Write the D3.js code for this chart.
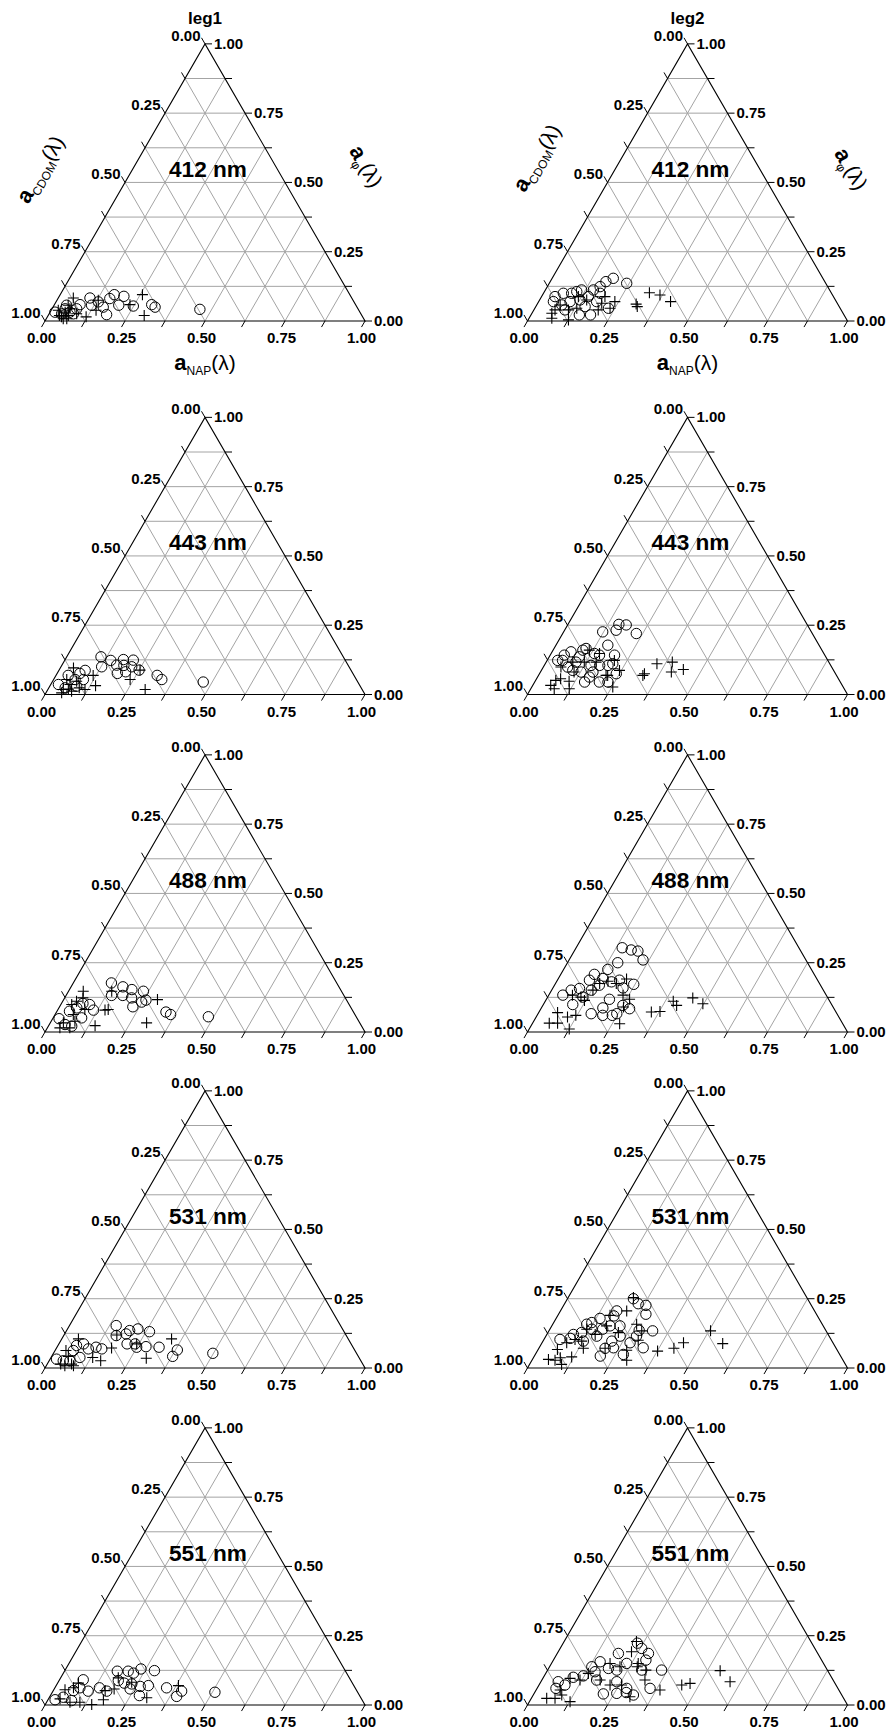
<!DOCTYPE html>
<html>
<head>
<meta charset="utf-8">
<script src="https://cdn.jsdelivr.net/npm/d3@7"></script>
<style>
  body { margin: 0; background: #fff; }
  svg { display: block; }
  text { font-family: "Liberation Sans", Arial, sans-serif; fill: #000; }
</style>
</head>
<body>
<svg id="chart" width="891" height="1733"></svg>
<script>
// Ternary absorption budgets: aNAP, aCDOM and aphi fractions per wavelength and leg.
const legs = ["leg1", "leg2"];
const wavelengths = [412, 443, 488, 531, 551];
const tickValues = [0, 0.25, 0.5, 0.75, 1];
const tickLabels = ["0.00", "0.25", "0.50", "0.75", "1.00"];

// Each point is [aNAP fraction, aphi fraction]; aCDOM is the remainder 1 - aNAP - aphi.
const leg1_412_circle = [[0.463,0.042],[0.319,0.050],[0.304,0.059],[0.249,0.054],[0.202,0.089],[0.169,0.095],[0.162,0.081],[0.202,0.057],[0.181,0.023],[0.157,0.050],[0.132,0.069],[0.099,0.083],[0.117,0.057],[0.080,0.059],[0.077,0.044],[0.062,0.032],[0.041,0.044],[0.015,0.032],[0.039,0.026],[0.076,0.026],[0.039,0.057]];
const leg1_412_plus = [[0.257,0.095],[0.300,0.020],[0.236,0.059],[0.140,0.039],[0.129,0.075],[0.121,0.015],[0.047,0.083],[0.044,0.057],[0.044,0.015],[0.047,0.032],[0.056,0.044],[0.035,0.020],[0.053,0.008],[0.086,0.026],[0.063,0.020],[0.022,0.039],[0.064,0.008]];
const leg2_412_circle = [[0.242,0.136],[0.191,0.154],[0.174,0.142],[0.165,0.124],[0.113,0.112],[0.088,0.100],[0.062,0.100],[0.042,0.088],[0.046,0.070],[0.078,0.058],[0.151,0.022],[0.186,0.022],[0.230,0.046],[0.181,0.070],[0.146,0.088],[0.126,0.076],[0.098,0.070],[0.097,0.040],[0.177,0.100],[0.101,0.106],[0.150,0.112],[0.154,0.052]];
const leg2_412_plus = [[0.412,0.070],[0.367,0.094],[0.330,0.102],[0.309,0.061],[0.317,0.052],[0.238,0.070],[0.235,0.046],[0.198,0.088],[0.201,0.040],[0.147,0.076],[0.115,0.088],[0.108,0.040],[0.073,0.058],[0.062,0.028],[0.071,0.010],[0.126,0.004],[0.131,0.046],[0.200,0.064],[0.066,0.040]];

const leg1_443_circle = [[0.472,0.045],[0.338,0.054],[0.316,0.069],[0.250,0.088],[0.214,0.124],[0.182,0.126],[0.144,0.123],[0.107,0.136],[0.127,0.100],[0.171,0.106],[0.188,0.076],[0.211,0.082],[0.221,0.100],[0.194,0.105],[0.082,0.087],[0.071,0.076],[0.093,0.054],[0.038,0.069],[0.067,0.054],[0.024,0.036],[0.051,0.024],[0.084,0.030]];
const leg1_443_plus = [[0.304,0.018],[0.239,0.054],[0.253,0.088],[0.142,0.032],[0.116,0.069],[0.116,0.018],[0.095,0.024],[0.041,0.096],[0.041,0.054],[0.060,0.036],[0.048,0.018],[0.077,0.012],[0.049,0.006],[0.075,0.048],[0.063,0.020]];
const leg2_443_circle = [[0.230,0.220],[0.183,0.251],[0.159,0.253],[0.161,0.232],[0.122,0.226],[0.162,0.178],[0.201,0.142],[0.154,0.142],[0.100,0.166],[0.059,0.154],[0.048,0.123],[0.076,0.099],[0.093,0.117],[0.146,0.105],[0.173,0.105],[0.199,0.105],[0.240,0.075],[0.202,0.045],[0.162,0.063],[0.127,0.081],[0.156,0.045],[0.033,0.123],[0.094,0.136],[0.164,0.081],[0.229,0.045],[0.211,0.111],[0.098,0.087],[0.044,0.142],[0.093,0.160],[0.135,0.148]];
const leg2_443_plus = [[0.442,0.090],[0.409,0.081],[0.394,0.117],[0.349,0.111],[0.328,0.075],[0.326,0.069],[0.253,0.027],[0.244,0.087],[0.216,0.069],[0.210,0.123],[0.151,0.148],[0.113,0.160],[0.119,0.117],[0.105,0.081],[0.106,0.048],[0.075,0.057],[0.063,0.051],[0.056,0.033],[0.073,0.021],[0.120,0.021],[0.055,0.099],[0.083,0.117],[0.156,0.117],[0.211,0.069]];

const leg1_488_circle = [[0.483,0.055],[0.361,0.063],[0.342,0.072],[0.258,0.115],[0.234,0.147],[0.195,0.153],[0.162,0.163],[0.119,0.177],[0.142,0.132],[0.177,0.132],[0.209,0.123],[0.229,0.091],[0.248,0.108],[0.112,0.079],[0.090,0.099],[0.067,0.103],[0.056,0.087],[0.039,0.075],[0.089,0.051],[0.020,0.048],[0.049,0.027],[0.073,0.021]];
const leg1_488_plus = [[0.301,0.033],[0.293,0.117],[0.157,0.081],[0.148,0.079],[0.145,0.023],[0.135,0.147],[0.046,0.147],[0.057,0.123],[0.034,0.099],[0.057,0.063],[0.041,0.033],[0.074,0.039],[0.039,0.015],[0.070,0.015],[0.043,0.111],[0.084,0.081]];
const leg2_488_circle = [[0.144,0.304],[0.176,0.296],[0.199,0.292],[0.231,0.260],[0.157,0.250],[0.138,0.226],[0.105,0.208],[0.139,0.193],[0.172,0.181],[0.219,0.159],[0.246,0.172],[0.100,0.187],[0.084,0.157],[0.061,0.151],[0.044,0.133],[0.092,0.099],[0.110,0.126],[0.124,0.151],[0.197,0.118],[0.192,0.087],[0.205,0.060],[0.235,0.060],[0.246,0.066],[0.166,0.066],[0.277,0.084],[0.250,0.096],[0.140,0.169],[0.194,0.187]];
const leg2_488_plus = [[0.497,0.102],[0.455,0.123],[0.418,0.096],[0.400,0.111],[0.377,0.074],[0.351,0.072],[0.260,0.118],[0.255,0.090],[0.273,0.030],[0.232,0.133],[0.214,0.191],[0.160,0.183],[0.138,0.175],[0.121,0.114],[0.104,0.126],[0.121,0.060],[0.098,0.054],[0.125,0.011],[0.059,0.070],[0.052,0.032],[0.078,0.032],[0.074,0.133],[0.190,0.175],[0.129,0.151]];

const leg1_531_circle = [[0.498,0.053],[0.381,0.065],[0.378,0.042],[0.319,0.075],[0.277,0.077],[0.249,0.075],[0.238,0.087],[0.213,0.087],[0.261,0.131],[0.220,0.141],[0.197,0.135],[0.192,0.123],[0.146,0.153],[0.164,0.117],[0.143,0.069],[0.122,0.075],[0.101,0.069],[0.077,0.087],[0.090,0.038],[0.057,0.063],[0.020,0.032],[0.044,0.026],[0.065,0.026],[0.058,0.081]];
const leg1_531_plus = [[0.343,0.105],[0.299,0.035],[0.172,0.072],[0.161,0.026],[0.130,0.038],[0.165,0.119],[0.052,0.105],[0.034,0.063],[0.052,0.042],[0.042,0.014],[0.076,0.014],[0.058,0.008],[0.243,0.087],[0.085,0.008]];
const leg2_531_circle = [[0.206,0.250],[0.230,0.232],[0.257,0.226],[0.273,0.194],[0.324,0.134],[0.325,0.073],[0.283,0.115],[0.281,0.136],[0.176,0.206],[0.176,0.188],[0.137,0.179],[0.119,0.164],[0.131,0.140],[0.159,0.115],[0.182,0.152],[0.213,0.152],[0.232,0.115],[0.215,0.097],[0.232,0.073],[0.275,0.049],[0.206,0.043],[0.207,0.071],[0.126,0.097],[0.080,0.107],[0.050,0.103],[0.083,0.121],[0.105,0.128],[0.165,0.140],[0.106,0.158],[0.275,0.091]];
const leg2_531_plus = [[0.566,0.088],[0.505,0.134],[0.442,0.091],[0.422,0.071],[0.376,0.061],[0.296,0.028],[0.278,0.064],[0.296,0.100],[0.262,0.158],[0.290,0.134],[0.207,0.206],[0.204,0.254],[0.163,0.190],[0.171,0.152],[0.220,0.128],[0.207,0.071],[0.139,0.071],[0.121,0.097],[0.097,0.103],[0.077,0.091],[0.060,0.067],[0.084,0.037],[0.050,0.031],[0.072,0.028],[0.118,0.040],[0.100,0.013],[0.151,0.121],[0.115,0.140]];

const leg1_551_circle = [[0.508,0.046],[0.402,0.050],[0.396,0.031],[0.349,0.062],[0.280,0.124],[0.235,0.130],[0.219,0.115],[0.199,0.122],[0.165,0.122],[0.185,0.088],[0.208,0.079],[0.233,0.076],[0.264,0.067],[0.288,0.070],[0.278,0.034],[0.237,0.058],[0.139,0.062],[0.110,0.050],[0.074,0.091],[0.078,0.062],[0.063,0.052],[0.022,0.019],[0.043,0.028],[0.075,0.016],[0.168,0.050]];
const leg1_551_plus = [[0.382,0.070],[0.305,0.026],[0.180,0.098],[0.187,0.058],[0.162,0.052],[0.173,0.019],[0.145,0.002],[0.065,0.079],[0.058,0.062],[0.035,0.055],[0.036,0.022],[0.073,0.010],[0.104,0.010],[0.230,0.082]];
const leg2_551_circle = [[0.232,0.223],[0.255,0.204],[0.285,0.186],[0.289,0.162],[0.356,0.126],[0.353,0.060],[0.313,0.036],[0.286,0.045],[0.258,0.042],[0.217,0.040],[0.191,0.186],[0.235,0.150],[0.216,0.126],[0.187,0.132],[0.149,0.156],[0.132,0.138],[0.151,0.120],[0.122,0.105],[0.093,0.100],[0.081,0.072],[0.054,0.084],[0.059,0.060],[0.237,0.084],[0.280,0.060],[0.294,0.126],[0.171,0.090]];
const leg2_551_plus = [[0.591,0.084],[0.540,0.124],[0.469,0.078],[0.446,0.072],[0.387,0.054],[0.307,0.126],[0.322,0.090],[0.271,0.150],[0.229,0.192],[0.226,0.229],[0.305,0.030],[0.258,0.072],[0.183,0.150],[0.182,0.090],[0.222,0.072],[0.133,0.114],[0.119,0.090],[0.085,0.096],[0.075,0.054],[0.048,0.024],[0.074,0.024],[0.127,0.012],[0.089,0.036],[0.274,0.138],[0.220,0.138]];

const panels = {
  leg1: {
    412: [leg1_412_circle, leg1_412_plus], 443: [leg1_443_circle, leg1_443_plus],
    488: [leg1_488_circle, leg1_488_plus], 531: [leg1_531_circle, leg1_531_plus],
    551: [leg1_551_circle, leg1_551_plus]
  },
  leg2: {
    412: [leg2_412_circle, leg2_412_plus], 443: [leg2_443_circle, leg2_443_plus],
    488: [leg2_488_circle, leg2_488_plus], 531: [leg2_531_circle, leg2_531_plus],
    551: [leg2_551_circle, leg2_551_plus]
  }
};

// Layout of the 5 x 2 grid of triangles (bottom-left corner of each triangle).
const side = 320;
const tri = side * Math.sqrt(3) / 2;
const colX = [45, 527.5];
const rowBase = [321, 694.5, 1032, 1368, 1705];
const leftTitlePos = [[41.5, 170], [538, 158.5]];
const rightTitlePos = [[365, 167], [850, 169.5]];
const tickLen = 7;

const svg = d3.select("#chart");

function axisTitle(parent, x, y, angle, main, sub) {
  const t = parent.append("text")
    .attr("transform", `translate(${x},${y}) rotate(${angle})`)
    .attr("text-anchor", "middle")
    .attr("y", 6);
  t.append("tspan").attr("font-weight", "bold").attr("font-size", 22).text(main);
  t.append("tspan").attr("font-size", 12).attr("dy", 5).text(sub);
  t.append("tspan").attr("font-size", 21).attr("dy", -5).text("(λ)");
}

wavelengths.forEach((wl, r) => {
  legs.forEach((leg, c) => {
    const x0 = colX[c], y0 = rowBase[r];
    const xs = d3.scaleLinear().domain([0, 1]).range([x0, x0 + side]);
    const ys = d3.scaleLinear().domain([0, 1]).range([y0, y0 - tri]);
    // ternary (aNAP, aphi) -> screen position
    const P = (nap, phi) => [xs(nap + phi / 2), ys(phi)];
    const g = svg.append("g").attr("class", `panel ${leg}-${wl}`);

    // grid lines every 1/8 for each of the three components
    const steps = d3.range(1, 8).map(k => k / 8);
    const grid = [];
    steps.forEach(t => {
      grid.push([P(0, t), P(1 - t, t)]);       // constant aphi
      grid.push([P(t, 0), P(t, 1 - t)]);       // constant aNAP
      grid.push([P(1 - t, 0), P(0, 1 - t)]);   // constant aCDOM
    });
    g.append("g").selectAll("line").data(grid).join("line")
      .attr("x1", d => d[0][0]).attr("y1", d => d[0][1])
      .attr("x2", d => d[1][0]).attr("y2", d => d[1][1])
      .attr("stroke", "#a4a4a4").attr("stroke-width", 1);

    // triangle frame
    g.append("path")
      .attr("d", d3.line()([P(0, 0), P(1, 0), P(0, 1)]) + "Z")
      .attr("fill", "none").attr("stroke", "#000").attr("stroke-width", 1.1);

    // ticks on the three edges
    const cos60 = 0.5, sin60 = Math.sqrt(3) / 2;
    const ticks = [];
    d3.range(0, 9).map(k => k / 8).forEach(t => {
      const pl = P(0, 1 - t);  // aCDOM = t on left edge
      ticks.push({ axis: "cdom", v: t, p: pl, e: [pl[0] - cos60 * tickLen, pl[1] - sin60 * tickLen] });
      const pr = P(1 - t, t);  // aphi = t on right edge
      ticks.push({ axis: "phi", v: t, p: pr, e: [pr[0] + tickLen, pr[1]] });
      const pb = P(t, 0);      // aNAP = t on base
      ticks.push({ axis: "nap", v: t, p: pb, e: [pb[0] - cos60 * tickLen, pb[1] + sin60 * tickLen] });
    });
    g.append("g").selectAll("line").data(ticks).join("line")
      .attr("x1", d => d.p[0]).attr("y1", d => d.p[1])
      .attr("x2", d => d.e[0]).attr("y2", d => d.e[1])
      .attr("stroke", "#000").attr("stroke-width", 1);

    const labelled = ticks.filter(d => tickValues.some(v => Math.abs(v - d.v) < 1e-9));
    g.append("g").selectAll("text").data(labelled).join("text")
      .attr("font-size", 15).attr("font-weight", "bold")
      .attr("text-anchor", d => d.axis === "cdom" ? "end" : d.axis === "phi" ? "start" : "middle")
      .attr("x", d => d.axis === "cdom" ? d.e[0] - 1 : d.axis === "phi" ? d.e[0] + 2 : d.e[0])
      .attr("y", d => d.axis === "cdom" ? d.e[1] + 3 : d.axis === "phi" ? d.e[1] + 5 : d.e[1] + 16)
      .text(d => tickLabels[tickValues.findIndex(v => Math.abs(v - d.v) < 1e-9)]);

    // wavelength label
    g.append("text")
      .attr("x", xs(0.5) + 3).attr("y", y0 - 144.5)
      .attr("text-anchor", "middle")
      .attr("font-size", 22).attr("font-weight", "bold")
      .attr("textLength", 78).attr("lengthAdjust", "spacingAndGlyphs")
      .text(`${wl} nm`);

    // samples
    const [circ, plus] = panels[leg][wl];
    g.append("g").selectAll("circle").data(circ).join("circle")
      .attr("cx", d => P(d[0], d[1])[0]).attr("cy", d => P(d[0], d[1])[1])
      .attr("r", 5.2).attr("fill", "none").attr("stroke", "#000").attr("stroke-width", 1);
    const s = 5.5;
    g.append("g").selectAll("path").data(plus).join("path")
      .attr("d", d => {
        const [x, y] = P(d[0], d[1]);
        return `M${x - s},${y}H${x + s}M${x},${y - s}V${y + s}`;
      })
      .attr("fill", "none").attr("stroke", "#000").attr("stroke-width", 1.1);

    if (r === 0) {
      g.append("text")
        .attr("x", xs(0.5)).attr("y", y0 - tri - 20)
        .attr("text-anchor", "middle")
        .attr("font-size", 17).attr("font-weight", "bold")
        .text(leg);
      axisTitle(g, leftTitlePos[c][0], leftTitlePos[c][1], -60, "a", "CDOM");
      axisTitle(g, rightTitlePos[c][0], rightTitlePos[c][1], 60, "a", "φ");
      const bt = g.append("text")
        .attr("x", xs(0.5)).attr("y", y0 + 49)
        .attr("text-anchor", "middle");
      bt.append("tspan").attr("font-weight", "bold").attr("font-size", 22).text("a");
      bt.append("tspan").attr("font-size", 12).attr("dy", 5).text("NAP");
      bt.append("tspan").attr("font-size", 21).attr("dy", -5).text("(λ)");
    }
  });
});
</script>
</body>
</html>
